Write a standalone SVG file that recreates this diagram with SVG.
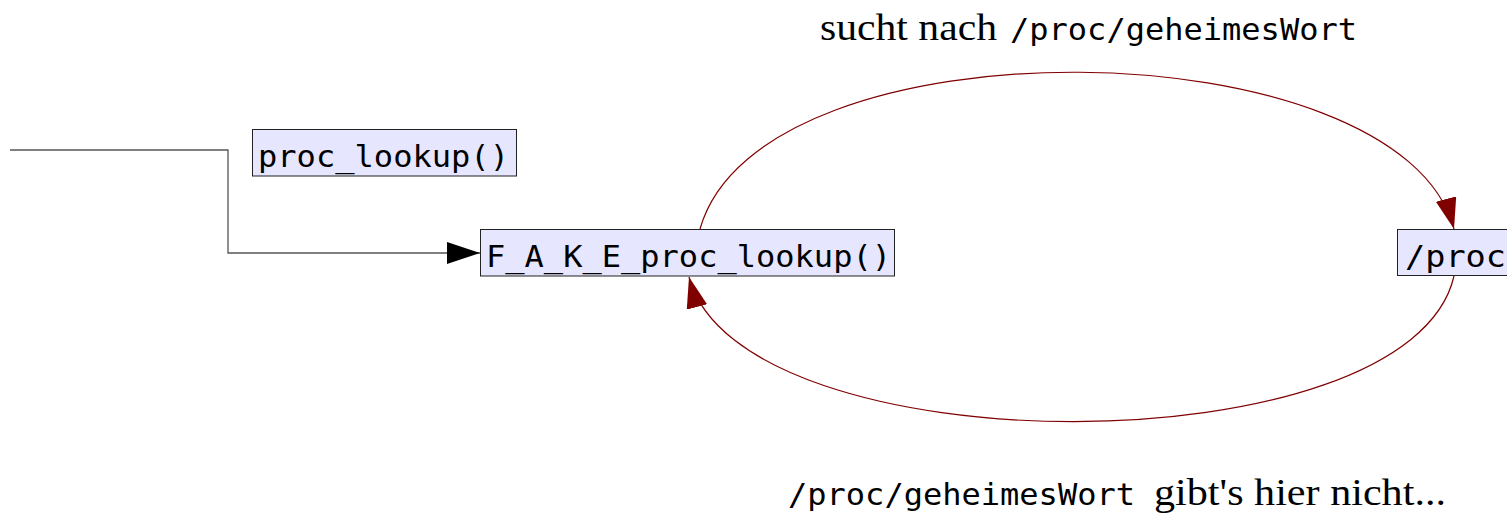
<svg xmlns="http://www.w3.org/2000/svg" width="1507" height="515" viewBox="0 0 1507 515">
  <style>
    .box { fill: #e6e6ff; stroke: #222; stroke-width: 1; }
    .mono { font-family: "DejaVu Sans Mono", "Liberation Mono", monospace; font-size: 31px; fill: #000; }
    .serif { font-family: "Liberation Serif", "DejaVu Serif", serif; font-size: 37px; fill: #000; }
    .flow { fill: none; stroke: #800000; stroke-width: 1.2; }
    .call { fill: none; stroke: #555; stroke-width: 1.3; }
  </style>
  <defs>
    <marker id="redHead" markerUnits="userSpaceOnUse" markerWidth="32" markerHeight="22" refX="31" refY="10.5" orient="auto">
      <path d="M0,0 L31,10.5 L0,21 z" fill="#800000"/>
    </marker>
    <marker id="blackHead" markerUnits="userSpaceOnUse" markerWidth="34" markerHeight="23" refX="33" refY="11" orient="auto">
      <path d="M0,0 L33,11 L0,22 z" fill="#000"/>
    </marker>
  </defs>

  <rect width="1507" height="515" fill="#fff"/>

  <!-- connectors -->
  <g id="connectors">
    <polyline class="call" points="10,150 228,150 228,253 480,253" marker-end="url(#blackHead)"/>
    <path class="flow" d="M700,229 C760,15 1400,25 1454,229" marker-end="url(#redHead)"/>
    <path class="flow" d="M1454,276 C1410,470 740,470 689,277" marker-end="url(#redHead)"/>
  </g>

  <!-- nodes -->
  <g id="node-proc-lookup">
    <rect class="box" x="252.5" y="129.5" width="264" height="46.5"/>
    <text class="mono" x="258" y="167" textLength="251" lengthAdjust="spacingAndGlyphs">proc_lookup()</text>
  </g>
  <g id="node-fake-proc-lookup">
    <rect class="box" x="480.5" y="229.5" width="414" height="46.5"/>
    <text class="mono" x="486" y="267" textLength="405" lengthAdjust="spacingAndGlyphs">F_A_K_E_proc_lookup()</text>
  </g>
  <g id="node-proc">
    <rect class="box" x="1397.5" y="229.5" width="130" height="46"/>
    <text class="mono" x="1405" y="267" textLength="101" lengthAdjust="spacingAndGlyphs">/proc</text>
  </g>

  <!-- labels -->
  <g id="label-top">
    <text class="serif" x="820" y="40" textLength="177" lengthAdjust="spacingAndGlyphs">sucht nach</text>
    <text class="mono" x="1010" y="40" textLength="347" lengthAdjust="spacingAndGlyphs">/proc/geheimesWort</text>
  </g>
  <g id="label-bottom">
    <text class="mono" x="788" y="505" textLength="347" lengthAdjust="spacingAndGlyphs">/proc/geheimesWort</text>
    <text class="serif" x="1154" y="505" textLength="292" lengthAdjust="spacingAndGlyphs">gibt's hier nicht...</text>
  </g>
</svg>
